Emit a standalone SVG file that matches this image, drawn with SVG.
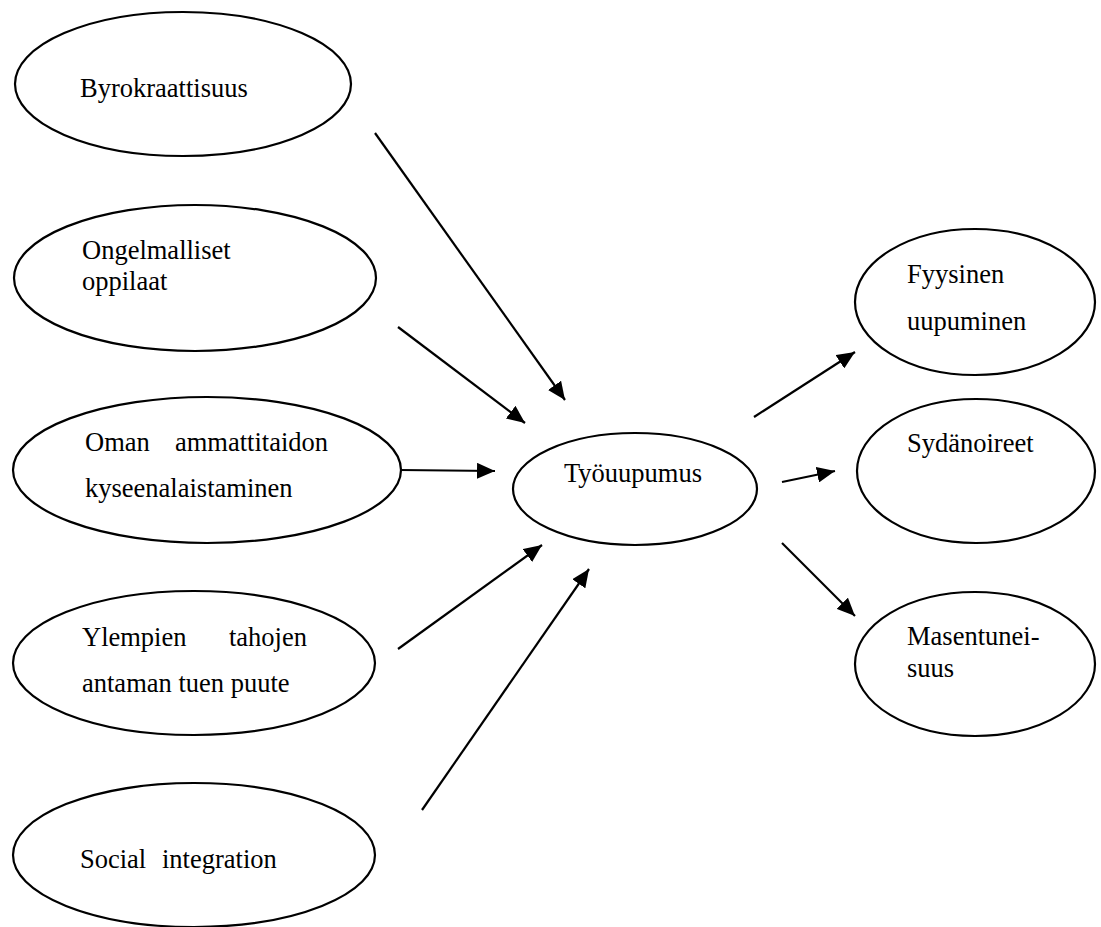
<svg xmlns="http://www.w3.org/2000/svg" width="1101" height="927" viewBox="0 0 1101 927">
<style>
.n ellipse{fill:none;stroke:#000;stroke-width:2.2}
text{font-family:"Liberation Serif","Times New Roman",serif;font-size:26.5px;fill:#000}
.c line{stroke:#000;stroke-width:2.2}
</style>
<defs>
<marker id="ah" markerUnits="userSpaceOnUse" markerWidth="20" markerHeight="16" viewBox="0 0 20 16" refX="18" refY="8" orient="auto">
<path d="M0,0 L18,8 L0,16 z" fill="#000"/>
</marker>
</defs>
<rect width="1101" height="927" fill="#fff"/>
<g id="n-byro" class="n"><ellipse cx="183" cy="84" rx="168" ry="72"/><text x="80" y="97">Byrokraattisuus</text></g>
<g id="n-ongel" class="n"><ellipse cx="195" cy="278" rx="181" ry="73"/><text x="82" y="259">Ongelmalliset</text><text x="82" y="290">oppilaat</text></g>
<g id="n-oman" class="n"><ellipse cx="207" cy="470" rx="194" ry="73"/><text x="85" y="451">Oman</text><text x="175" y="451">ammattitaidon</text><text x="85" y="497">kyseenalaistaminen</text></g>
<g id="n-ylemp" class="n"><ellipse cx="194" cy="663" rx="181" ry="72"/><text x="82" y="646">Ylempien</text><text x="229" y="646">tahojen</text><text x="82" y="692">antaman tuen puute</text></g>
<g id="n-social" class="n"><ellipse cx="194" cy="855" rx="181" ry="72"/><text x="80" y="868">Social</text><text x="162" y="868">integration</text></g>
<g id="n-tyo" class="n"><ellipse cx="635" cy="489" rx="122" ry="56"/><text x="564" y="482">Työuupumus</text></g>
<g id="n-fyys" class="n"><ellipse cx="975" cy="302" rx="120" ry="73"/><text x="907" y="283">Fyysinen</text><text x="907" y="330">uupuminen</text></g>
<g id="n-syd" class="n"><ellipse cx="976" cy="471" rx="119" ry="72"/><text x="907" y="452">Sydänoireet</text></g>
<g id="n-mas" class="n"><ellipse cx="975" cy="664" rx="120" ry="72"/><text x="907" y="645">Masentunei-</text><text x="907" y="677">suus</text></g>
<g id="connectors" class="c">
<line x1="375" y1="133" x2="565" y2="400" marker-end="url(#ah)"/>
<line x1="398" y1="327" x2="525" y2="423" marker-end="url(#ah)"/>
<line x1="400" y1="470" x2="495" y2="471" marker-end="url(#ah)"/>
<line x1="398" y1="649" x2="542" y2="545" marker-end="url(#ah)"/>
<line x1="422" y1="810" x2="589" y2="569" marker-end="url(#ah)"/>
<line x1="754" y1="417" x2="855" y2="352" marker-end="url(#ah)"/>
<line x1="782" y1="482" x2="835" y2="471" marker-end="url(#ah)"/>
<line x1="782" y1="543" x2="855" y2="616" marker-end="url(#ah)"/>
</g>
</svg>
